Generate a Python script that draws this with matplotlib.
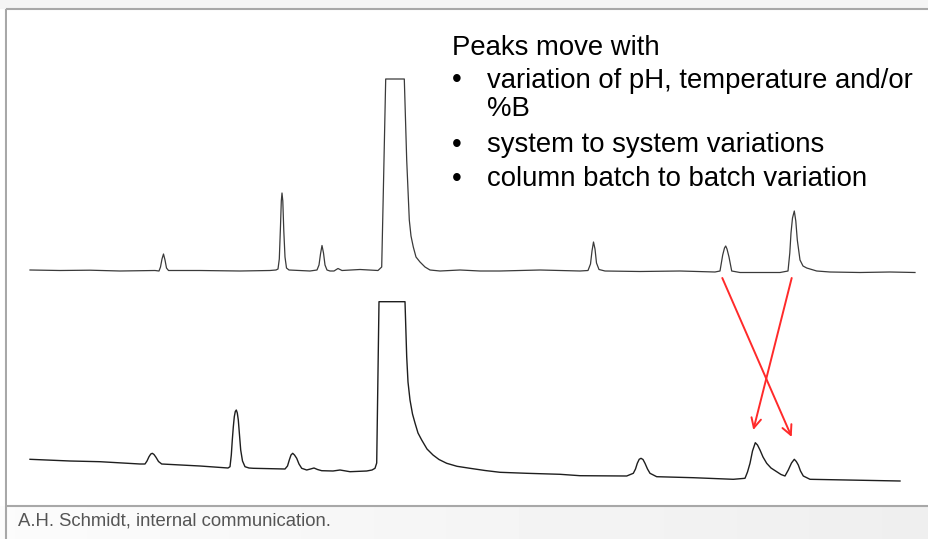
import numpy as np
import matplotlib.pyplot as plt
from matplotlib.patches import FancyArrowPatch

plt.rcParams['font.family'] = ['Liberation Sans', 'DejaVu Sans']

# Top chromatogram: retention time (a.u.) and detector signal (a.u., baseline = 0)
top_time = [30, 60, 90, 120, 155, 159, 160.5, 162, 163.5, 165, 166.5, 168.5, 200, 240,
            270, 276, 278, 279.3, 280.5, 281.3, 282, 282.8, 283.8, 285, 286.5, 289,
            310, 317, 319, 320.5, 322, 323.5, 325, 327, 330,
            334, 338, 342, 360, 378, 381.7, 383.3, 385.7, 404.3, 406.7, 409.3,
            411, 413.3, 416, 420, 425, 430, 440, 460, 480, 500, 540, 580, 588, 590.5,
            592, 593.5, 595, 596.5, 599, 605, 640, 680, 715, 720, 722.7, 724.5, 725.7,
            727, 729, 731.7, 740, 780, 788, 789.8, 791, 792.5, 794.3, 795.8, 797.3,
            800, 803, 806.7, 816.7, 830, 860, 890, 915]
top_signal = [1, 0.5, 0.8, 0, 0.5, 0, 4, 12, 17, 11, 3, 0.5, 0.5, 0,
              0.5, 1, 2, 12, 45, 70, 78, 70, 40, 14, 3, 1,
              0, 1, 6, 17, 25.5, 18, 6, 1, 0,
              0, 2.5, 0.5, 1.5, 0.5, 4, 78, 192, 192, 111, 51,
              35, 24, 14, 9, 4, 1, 0, 1, 0, 0, 1, 0, 0.5, 7,
              20, 29, 22, 8, 1.5, 0, -0.5, 0, -1, 0, 16, 23, 25,
              22, 14, 0, -1.5, -1.5, 0, 18, 38, 53, 60, 50, 31,
              11, 5, 3, 0, -1, -1.5, -1, -1.5]

# Bottom chromatogram (different system / column batch), baseline drifts down
bottom_time = [30, 70, 100, 140, 145, 147, 149, 150.8, 152.3, 154, 156, 158.5, 161.7, 200,
               228, 230, 231.3, 232.3, 233.3, 234.3, 235.3, 236.3, 237.3, 238.3, 239.5,
               240.7, 242.5, 245, 249, 253.3, 285, 287.5, 289.3, 291, 292.7, 294.5,
               296.7, 299, 301.7, 306.7, 310.5, 314, 317.5, 321.7, 333, 340, 350, 366.7,
               372, 375, 376.7, 379, 405, 406.7, 408, 410, 412.5, 415, 418, 421.7, 427,
               433, 439, 446.7, 457, 470, 485, 500, 526.7, 560, 580, 626.7, 633.3, 635.5,
               637.3, 639.2, 641, 643, 645, 647.5, 650, 656.7, 693.3, 733.3, 745, 747.5,
               750, 752.5, 755.3, 757.5, 760, 763, 766.7, 771, 776.7, 781, 785, 788.3,
               791.5, 794.3, 796.3, 798.3, 800.5, 803.3, 810, 900]
bottom_signal = [0.7, -1, -1.7, -4, -4, -1, 3.3, 6, 6.7, 5.5, 2.7, -1.5, -4, -6,
                 -8, -6.7, 5, 20, 33, 43.3, 48.5, 50, 47, 40, 25,
                 10, -1, -6.7, -8, -8.3, -9, -6, 0, 5, 6.7, 5,
                 1.7, -4, -8.3, -10, -9, -8, -9.5, -10.7, -11, -10, -11.7, -11,
                 -10, -8.3, -3, 158.3, 158.3, 103.3, 78, 60, 46, 37, 27, 20, 11,
                 5, 0.5, -3.3, -6.3, -8.3, -10.5, -12.3, -13.3, -14.3, -15.7, -16, -13.3, -9,
                 -3.3, 0.7, 1.7, 0.5, -3.3, -9, -13.3, -16.7, -17.7, -19.3, -18.3, -12,
                 -3.3, 9, 17.3, 15, 10, 3, -3.3, -8, -11.7, -14.5, -16, -10,
                 -3, 0.7, -1.5, -5, -11, -16, -19.3, -21]

top_offset = 234.5
bottom_offset = 45.5

# peaks that swap order: (time in top run, time in bottom run)
moved_peaks = [(722.3, 791.7), (791.7, 753.3)]
arrow_start_y = 227.5
arrow_end_y = [68.5, 75.5]

# (has bullet, text) per line
text_lines = [(False, "Peaks move with"),
              (True, "variation of pH, temperature and/or"),
              (False, "%B"),
              (True, "system to system variations"),
              (True, "column batch to batch variation")]
line_baselines = [55, 87.5, 116.5, 152, 186]
caption = "A.H. Schmidt, internal communication."

W, H = 929, 539
fig = plt.figure(figsize=(W / 100, H / 100), dpi=100)

# background / slide decoration in pixel coordinates
bg = fig.add_axes([0, 0, 1, 1])
bg.set_xlim(0, W)
bg.set_ylim(H, 0)
bg.axis('off')
bg.axhspan(0, 8.5, color='#f5f5f5', lw=0)
grad = np.linspace(0.985, 0.935, 256)[None, :]
bg.imshow(grad, cmap='gray', vmin=0, vmax=1, extent=[0, W, H, 506], aspect='auto', zorder=0)
bg.set_xlim(0, W)
bg.set_ylim(H, 0)
bg.plot([6.5, 6.5], [8.5, H], color='#a8a8a8', lw=1.5, solid_capstyle='butt')

# main chart area
ax = fig.add_axes([7.2 / W, (H - 505.5) / H, 1 - 7.2 / W, (505.5 - 8.5) / H])
ax.set_facecolor('white')
ax.set_xlim(7.2, W)
ax.set_ylim(0, 497)
ax.set_xticks([])
ax.set_yticks([])
for s in ['top', 'bottom']:
    ax.spines[s].set_color('#a8a8a8')
    ax.spines[s].set_linewidth(1.5)
ax.spines['left'].set_visible(False)
ax.spines['right'].set_visible(False)

ax.plot(top_time, np.array(top_signal) + top_offset, color='#3a3a3a', lw=0.9)
ax.plot(bottom_time, np.array(bottom_signal) + bottom_offset, color='#1e1e1e', lw=1.0)

for (t0, t1), ye in zip(moved_peaks, arrow_end_y):
    ax.add_patch(FancyArrowPatch((t0, arrow_start_y), (t1, ye),
                                 arrowstyle='->,head_length=7,head_width=3.5',
                                 color='#ff2a2a', lw=1.4, shrinkA=0, shrinkB=0))


def px(x, y):
    return x / W, 1 - y / H


# text block (figure text so it sits above the axes)
fs = 19.8
for (has_bullet, line), y in zip(text_lines, line_baselines):
    if has_bullet:
        fig.text(*px(452, y), "\u2022", fontsize=fs, va='baseline', ha='left')
    x0 = 486.7 if (has_bullet or line == "%B") else 452
    fig.text(*px(x0, y), line, fontsize=fs, va='baseline', ha='left', color='black')

fig.text(*px(18, 526), caption, fontsize=13.3, va='baseline', ha='left', color='#555555')

fig.savefig('out.png', dpi=100)
